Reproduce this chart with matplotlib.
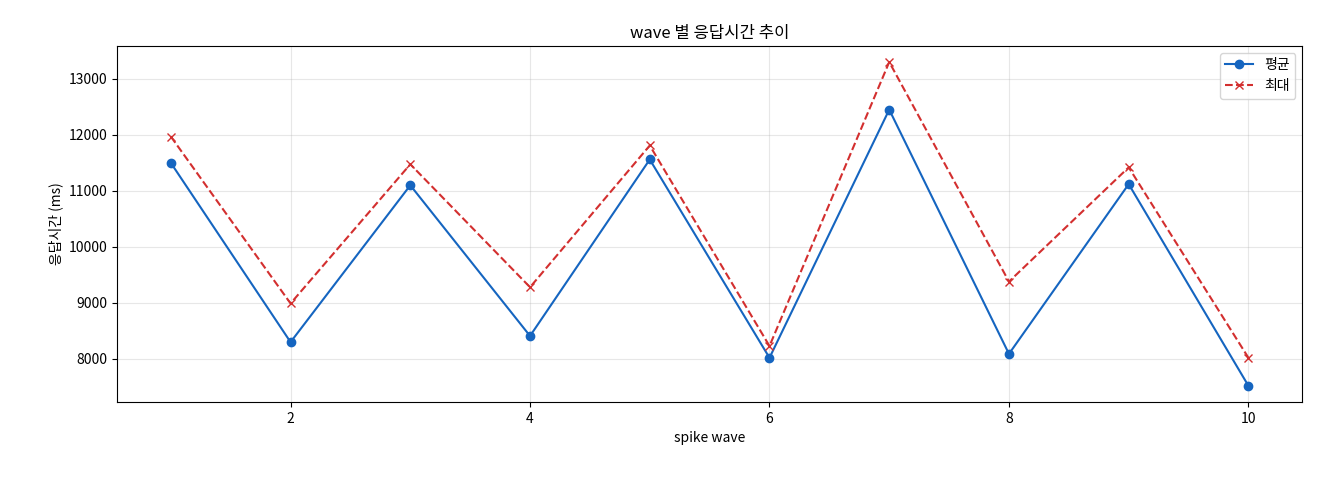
import matplotlib
matplotlib.use("Agg")
import matplotlib.pyplot as plt

plt.rcParams['font.family'] = ['Noto Sans CJK KR', 'DejaVu Sans']
plt.rcParams['axes.unicode_minus'] = False

waves = [1, 2, 3, 4, 5, 6, 7, 8, 9, 10]
avg_ms = [11500, 8300, 11100, 8410, 11560, 8020, 12450, 8090, 11120, 7520]
max_ms = [11970, 8990, 11475, 9280, 11810, 8230, 13300, 9380, 11420, 8020]

fig = plt.figure(figsize=(13.2, 4.8), dpi=100)
ax = fig.add_axes([0.0886, 0.1625, 0.898, 0.742])
ax.plot(waves, avg_ms, color='#1565c0', marker='o', markersize=6, linewidth=1.5, label='평균')
ax.plot(waves, max_ms, color='#d32f2f', marker='x', markersize=6, linewidth=1.5, linestyle='--', label='최대')
ax.set_title('wave 별 응답시간 추이', fontsize=12)
ax.set_xlabel('spike wave', fontsize=10)
ax.set_ylabel('응답시간 (ms)', fontsize=10)
ax.grid(True, alpha=0.3)
ax.legend(loc='upper right', fontsize=10)
fig.savefig('out.png', dpi=100)
